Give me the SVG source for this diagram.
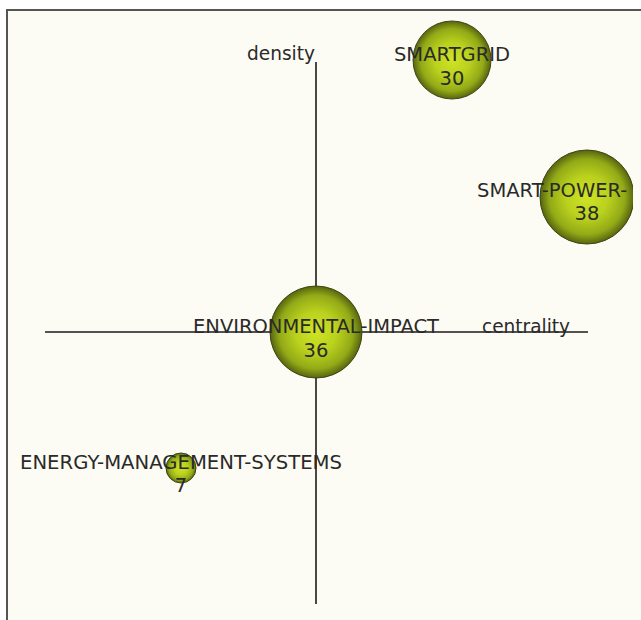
<svg xmlns="http://www.w3.org/2000/svg" width="641" height="620" viewBox="0 0 641 620">
  <defs>
    <radialGradient id="ball" cx="50%" cy="50%" r="50%">
      <stop offset="0%" stop-color="#cfe426"/>
      <stop offset="45%" stop-color="#bad11e"/>
      <stop offset="80%" stop-color="#93aa17"/>
      <stop offset="100%" stop-color="#56650f"/>
    </radialGradient>
    <clipPath id="rightClip">
      <rect x="0" y="0" width="633" height="620"/>
    </clipPath>
    <style>
      .bubble { fill: url(#ball); stroke: #3f4515; stroke-width: 1; }
      .lbl { font-family: "DejaVu Sans", "Liberation Sans", sans-serif; font-size: 19.5px; fill: #2a2a2a; text-anchor: middle; }
      .axis { stroke: #1a1a1a; stroke-width: 1.6; fill: none; }
    </style>
  </defs>
  <rect x="0" y="0" width="641" height="620" fill="#ffffff"/>
  <rect x="7" y="10" width="640" height="620" fill="#fdfcf4" stroke="#555555" stroke-width="2"/>

  <g id="connectors">
    <line class="axis" x1="316" y1="62" x2="316" y2="604"/>
    <line class="axis" x1="45" y1="332" x2="588" y2="332"/>
    <text class="lbl" x="315" y="60" style="text-anchor:end" textLength="68" lengthAdjust="spacingAndGlyphs">density</text>
    <text class="lbl" x="526" y="333" textLength="88" lengthAdjust="spacingAndGlyphs">centrality</text>
  </g>

  <g id="node-smartgrid">
    <circle class="bubble" cx="452" cy="60" r="39"/>
    <text class="lbl" x="452" y="61">SMARTGRID</text>
    <text class="lbl" x="452" y="85">30</text>
  </g>

  <g id="node-smart-power" clip-path="url(#rightClip)">
    <circle class="bubble" cx="587" cy="197" r="47"/>
    <text class="lbl" x="477" y="197" style="text-anchor:start">SMART-POWER-</text>
    <text class="lbl" x="587" y="220">38</text>
  </g>

  <g id="node-environmental-impact">
    <circle class="bubble" cx="316" cy="332" r="46"/>
    <text class="lbl" x="316" y="333" textLength="246" lengthAdjust="spacingAndGlyphs">ENVIRONMENTAL-IMPACT</text>
    <text class="lbl" x="316" y="357">36</text>
  </g>

  <g id="node-energy-management-systems">
    <circle class="bubble" cx="181" cy="468" r="15"/>
    <text class="lbl" x="181" y="469" textLength="322" lengthAdjust="spacingAndGlyphs">ENERGY-MANAGEMENT-SYSTEMS</text>
    <text class="lbl" x="181" y="492">7</text>
  </g>
</svg>
